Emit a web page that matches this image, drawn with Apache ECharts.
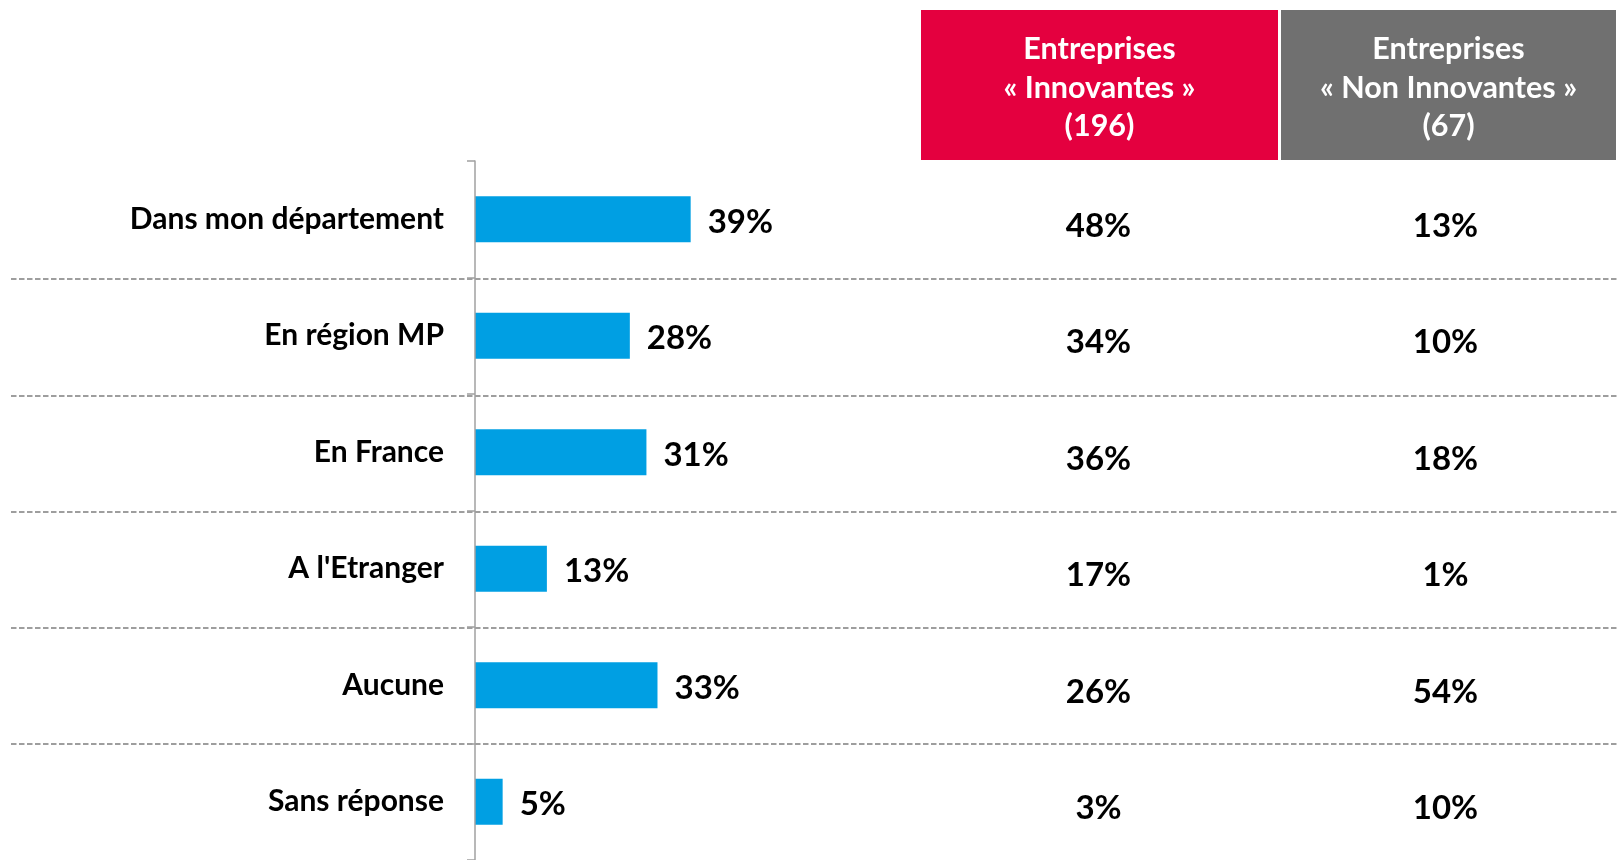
<!DOCTYPE html>
<html>
<head>
<meta charset="utf-8">
<script src="https://cdn.jsdelivr.net/npm/echarts@6/dist/echarts.min.js"></script>
<style>
html,body{margin:0;padding:0;background:#fff;}
#chart{width:1619px;height:860px;}
</style>
</head>
<body>
<div id="chart"></div>
<script>
const categories = ['Dans mon département', 'En région MP', 'En France', "A l'Etranger", 'Aucune', 'Sans réponse'];
const totalValues = [39, 28, 31, 13, 33, 5];
const innovValues = [48, 34, 36, 17, 26, 3];
const nonInnovValues = [13, 10, 18, 1, 54, 10];
const columns = ['Innovantes', 'Non Innovantes'];
const headerLines = [
  ['Entreprises', '« Innovantes »', '(196)'],
  ['Entreprises', '« Non Innovantes »', '(67)']
];
const headerColors = ['#E4003F', '#707070'];

const FONT = 'Lato, "Open Sans", sans-serif';
const chart = echarts.init(document.getElementById('chart'));

const headerBoxes = [[921, 1278], [1281, 1616]];
const graphics = [];
headerBoxes.forEach((b, i) => {
  graphics.push({
    type: 'rect', left: b[0], top: 10,
    shape: { width: b[1] - b[0], height: 150 },
    style: { fill: headerColors[i] }, z: 1
  });
  graphics.push({
    type: 'text', x: (b[0] + b[1]) / 2, y: 88,
    style: {
      text: headerLines[i].join('\n'),
      fill: '#fff', font: 'bold 30.5px ' + FONT,
      align: 'center', verticalAlign: 'middle', lineHeight: 38.5
    }, z: 2
  });
});

const valueLabelFont = { fontFamily: FONT, fontWeight: 'bold', fontSize: 33, color: '#000', opacity: 1 };

chart.setOption({
  animation: false,
  backgroundColor: '#fff',
  graphic: graphics,
  grid: [
    { left: 11, right: 0, top: 163, height: 702 },    // separators
    { left: 475, width: 276.5, top: 161, bottom: 0 }, // bars
    { left: 925, width: 698, top: 161, bottom: 0 }    // table
  ],
  xAxis: [
    { gridIndex: 0, type: 'value', show: false, min: 0, max: 1 },
    { gridIndex: 1, type: 'value', min: 0, max: 50, show: false },
    { gridIndex: 2, type: 'category', data: columns, show: false }
  ],
  yAxis: [
    {
      gridIndex: 0, type: 'category', data: categories, inverse: true,
      axisLine: { show: false }, axisTick: { show: false }, axisLabel: { show: false },
      splitLine: { show: true, showMinLine: false, showMaxLine: false, lineStyle: { color: '#7f7f7f', width: 1.5, type: [5.5, 2.5] } }
    },
    {
      gridIndex: 1, type: 'category', data: categories, inverse: true,
      axisLine: { show: true, lineStyle: { color: '#a0a0a0', width: 1.5 } },
      axisTick: { show: true, length: 8, lineStyle: { color: '#a0a0a0', width: 1.5 } },
      axisLabel: { margin: 31, fontFamily: FONT, fontWeight: 'bold', fontSize: 30, color: '#000' },
      splitLine: { show: false },
      z: 5
    },
    {
      gridIndex: 2, type: 'category', data: categories, inverse: true, show: false
    }
  ],
  series: [
    {
      type: 'bar', xAxisIndex: 1, yAxisIndex: 1,
      data: totalValues, barWidth: 46,
      itemStyle: { color: '#009FE3' },
      label: { show: true, position: 'right', distance: 17, offset: [0, 3], formatter: p => p.value + '%', ...valueLabelFont },
      z: 3
    },
    {
      type: 'scatter', xAxisIndex: 2, yAxisIndex: 2, symbolSize: 0,
      itemStyle: { opacity: 1 },
      data: innovValues.map((v, i) => [columns[0], categories[i], v]),
      label: { show: true, position: 'inside', offset: [0, 7], formatter: p => p.value[2] + '%', ...valueLabelFont }
    },
    {
      type: 'scatter', xAxisIndex: 2, yAxisIndex: 2, symbolSize: 0,
      itemStyle: { opacity: 1 },
      data: nonInnovValues.map((v, i) => [columns[1], categories[i], v]),
      label: { show: true, position: 'inside', offset: [0, 7], formatter: p => p.value[2] + '%', ...valueLabelFont }
    }
  ]
});
</script>
</body>
</html>
